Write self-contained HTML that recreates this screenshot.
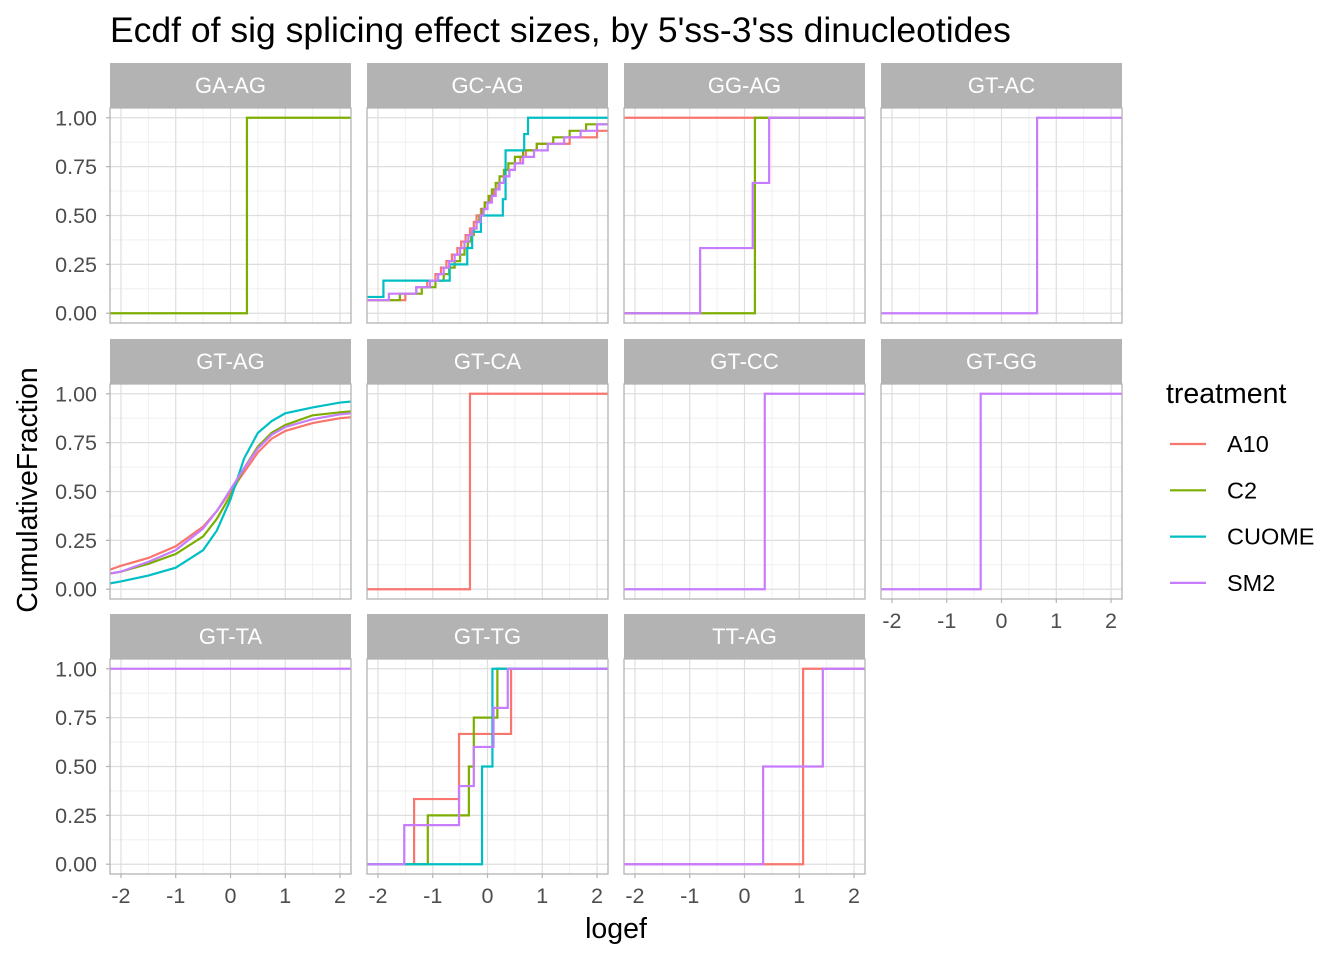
<!DOCTYPE html>
<html><head><meta charset="utf-8"><style>
body{margin:0;background:#fff;}
svg{display:block;font-family:"Liberation Sans",sans-serif;}
</style></head><body>
<svg id="chart" width="1344" height="960" xmlns="http://www.w3.org/2000/svg">
<text x="110" y="42" font-size="35.5" fill="#000">Ecdf of sig splicing effect sizes, by 5'ss-3'ss dinucleotides</text>
<text transform="translate(37,490) rotate(-90)" text-anchor="middle" font-size="28.5" fill="#000">CumulativeFraction</text>
<text x="616" y="938" text-anchor="middle" font-size="28.5" fill="#000">logef</text>
<g id="panels"></g>
<g id="legend">
<text x="1166" y="403" font-size="28.5" fill="#000">treatment</text>
</g>
</svg>
<script>
const treatments = ["A10","C2","CUOME","SM2"];
const colors = ["#F8766D","#7CAE00","#00BFC4","#C77CFF"];
const facets = ["GA-AG","GC-AG","GG-AG","GT-AC","GT-AG","GT-CA","GT-CC","GT-GG","GT-TA","GT-TG","TT-AG"];
const xTicks = [-2,-1,0,1,2];
const yTicks = [0,0.25,0.5,0.75,1];
const yTickLabels = ["0.00","0.25","0.50","0.75","1.00"];
const gaag_C2 = [0.30];
const gcag_A10 = [-2.6,-2.4,-1.5,-1.3,-1.1,-0.95,-0.85,-0.75,-0.65,-0.55,-0.48,-0.4,-0.32,-0.25,-0.2,-0.12,-0.05,0.05,0.12,0.2,0.3,0.4,0.5,0.6,0.7,0.9,1.5,2.0,2.5,3.0];
const gcag_C2 = [-2.6,-2.4,-1.6,-1.2,-0.95,-0.8,-0.7,-0.6,-0.5,-0.42,-0.36,-0.3,-0.25,-0.2,-0.15,-0.1,-0.05,0.02,0.08,0.15,0.22,0.3,0.38,0.5,0.65,0.9,1.2,1.5,1.8,2.6];
const gcag_CUOME = [-2.5,-1.9,-0.69,-0.37,-0.28,-0.12,0.28,0.33,0.33,0.33,0.67,0.74];
const gcag_SM2 = [-2.7,-2.5,-1.8,-1.3,-1.05,-0.9,-0.8,-0.7,-0.6,-0.5,-0.42,-0.35,-0.28,-0.2,-0.13,-0.07,0,0.08,0.15,0.22,0.3,0.4,0.5,0.65,0.85,1.1,1.4,1.7,2.0,2.6];
const ggag_A10 = [-3];
const ggag_C2 = [0.19];
const ggag_SM2 = [-0.81,0.15,0.45];
const gtac_SM2 = [0.65];
const gtca_A10 = [-0.32];
const gtcc_SM2 = [0.37];
const gtgg_SM2 = [-0.38];
const gtta_SM2 = [-3];
const gttg_A10 = [-1.34,-0.52,0.43];
const gttg_C2 = [-1.09,-0.34,-0.25,0.18];
const gttg_CUOME = [-0.10,0.09];
const gttg_SM2 = [-1.52,-0.52,-0.25,0.11,0.37];
const ttag_A10 = [1.07];
const ttag_SM2 = [0.34,1.43];
const gtagX = [-2.2,-2,-1.5,-1,-0.5,-0.25,0,0.25,0.5,0.75,1,1.5,2,2.2];
const gtag_A10 = [0.10,0.12,0.16,0.22,0.32,0.40,0.50,0.60,0.70,0.77,0.81,0.85,0.875,0.88];
const gtag_C2 = [0.08,0.09,0.13,0.18,0.27,0.36,0.48,0.62,0.73,0.80,0.84,0.89,0.905,0.91];
const gtag_CUOME = [0.03,0.04,0.07,0.11,0.20,0.30,0.46,0.67,0.80,0.86,0.90,0.93,0.955,0.96];
const gtag_SM2 = [0.08,0.09,0.14,0.20,0.31,0.40,0.51,0.62,0.72,0.79,0.83,0.87,0.895,0.90];

const samples = {
 "GA-AG":[null,gaag_C2,null,null],
 "GC-AG":[gcag_A10,gcag_C2,gcag_CUOME,gcag_SM2],
 "GG-AG":[ggag_A10,ggag_C2,null,ggag_SM2],
 "GT-AC":[null,null,null,gtac_SM2],
 "GT-CA":[gtca_A10,null,null,null],
 "GT-CC":[null,null,null,gtcc_SM2],
 "GT-GG":[null,null,null,gtgg_SM2],
 "GT-TA":[null,null,null,gtta_SM2],
 "GT-TG":[gttg_A10,gttg_C2,gttg_CUOME,gttg_SM2],
 "TT-AG":[ttag_A10,null,null,ttag_SM2]
};
const dense = {"GT-AG":[gtag_A10,gtag_C2,gtag_CUOME,gtag_SM2]};

const NS="http://www.w3.org/2000/svg";
const root=document.getElementById('panels');
function mk(tag,attrs,parent){const e=document.createElementNS(NS,tag);for(const k in attrs)e.setAttribute(k,attrs[k]);parent.appendChild(e);return e;}
const colX=[110,367,624,881], rowY=[63,339,614], PW=241, SH=45, PH=215;
const X0=-2.2,X1=2.2,Y0=-0.05,Y1=1.05;

facets.forEach((f,i)=>{
  const c=i%4, r=Math.floor(i/4);
  const px=colX[c], sy=rowY[r], py=sy+SH;
  const sx=v=>px+(v-X0)/(X1-X0)*PW;
  const syf=v=>py+PH-(v-Y0)/(Y1-Y0)*PH;
  const g=mk('g',{},root);
  
  
  const strip=mk('rect',{x:px,y:sy,width:PW,height:SH,fill:'#B3B3B3'},g);
  
  
  const st=mk('text',{x:px+PW/2,y:sy+30,'text-anchor':'middle','font-size':'22',fill:'#fff'},g);
  st.textContent=f;
  
  
  mk('rect',{x:px,y:py,width:PW,height:PH,fill:'#fff'},g);
  for(let v=-1.5;v<=1.5;v+=1) mk('line',{x1:sx(v),x2:sx(v),y1:py,y2:py+PH,stroke:'#EDEDED','stroke-width':0.8},g);
  for(let v=0.125;v<1;v+=0.25) mk('line',{x1:px,x2:px+PW,y1:syf(v),y2:syf(v),stroke:'#EDEDED','stroke-width':0.8},g);
  xTicks.forEach(v=>mk('line',{x1:sx(v),x2:sx(v),y1:py,y2:py+PH,stroke:'#DEDEDE','stroke-width':1.2},g));
  yTicks.forEach(v=>mk('line',{x1:px,x2:px+PW,y1:syf(v),y2:syf(v),stroke:'#DEDEDE','stroke-width':1.2},g));
  treatments.forEach((t,k)=>{
    let pts=null;
    if(dense[f]){const ys=dense[f][k];pts=gtagX.map((x,j)=>sx(x)+','+syf(ys[j]));}
    else if(samples[f]&&samples[f][k]){
      const s=samples[f][k].slice().sort((a,b)=>a-b);const n=s.length;
      let cnt=s.filter(v=>v<=X0).length;
      pts=[sx(X0)+','+syf(cnt/n)];
      s.forEach(v=>{if(v>X0&&v<X1){pts.push(sx(v)+','+syf(cnt/n));cnt++;pts.push(sx(v)+','+syf(cnt/n));}});
      pts.push(sx(X1)+','+syf(cnt/n));
    }
    if(pts){const l=mk('polyline',{points:pts.join(' '),fill:'none',stroke:colors[k],'stroke-width':2.2},g);
      
      }
  });
  mk('rect',{x:px,y:py,width:PW,height:PH,fill:'none',stroke:'#B3B3B3','stroke-width':1.3},g);
  if(c===0){yTicks.forEach((v,j)=>{mk('line',{x1:px-4,x2:px,y1:syf(v),y2:syf(v),stroke:'#B3B3B3','stroke-width':1.2},g);
    const tl=mk('text',{x:px-13,y:syf(v)+7.5,'text-anchor':'end','font-size':'21.5',fill:'#4D4D4D'},g);tl.textContent=yTickLabels[j];
    
    });}
  if(r===2||i===7){xTicks.forEach(v=>{mk('line',{x1:sx(v),x2:sx(v),y1:py+PH,y2:py+PH+4,stroke:'#B3B3B3','stroke-width':1.2},g);
    const tl=mk('text',{x:sx(v),y:py+PH+29,'text-anchor':'middle','font-size':'21.5',fill:'#4D4D4D'},g);tl.textContent=(v<0?'-'+(-v):v);
    
    });}
});
const lg=document.getElementById('legend');
treatments.forEach((t,k)=>{
  const y=444+k*46.3;
  const ln=mk('line',{x1:1170,x2:1206,y1:y,y2:y,stroke:colors[k],'stroke-width':2.2},lg);
  
  
  const tx=mk('text',{x:1227,y:y+8,'font-size':'23.5',fill:'#000'},lg);tx.textContent=t;
  
  
});
</script>
</body></html>
